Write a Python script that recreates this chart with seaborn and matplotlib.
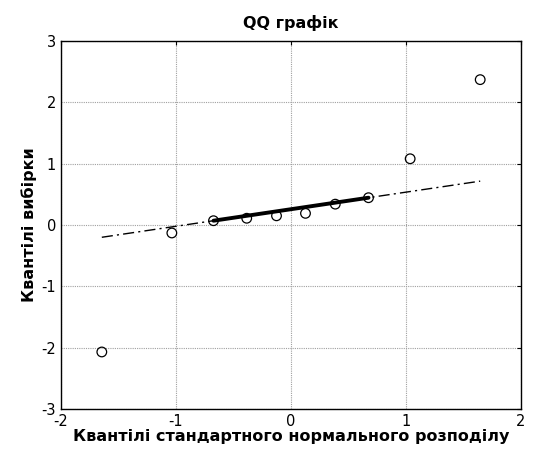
import numpy as np
import pandas as pd
import matplotlib
matplotlib.use("Agg")
import matplotlib.pyplot as plt
import seaborn as sns

# data
theor_q = [-1.645, -1.036, -0.674, -0.385, -0.126, 0.126, 0.385, 0.674, 1.036, 1.645]
sample_q = [-2.07, -0.13, 0.07, 0.11, 0.15, 0.19, 0.34, 0.445, 1.08, 2.37]
x_ticks = [-2, -1, 0, 1, 2]
y_ticks = [-3, -2, -1, 0, 1, 2, 3]
title = "QQ графік"
xlabel = "Квантілі стандартного нормального розподілу"
ylabel = "Квантілі вибірки"

sns.set_style("white")
plt.rcParams['font.family'] = ['DejaVu Sans']
plt.rcParams['axes.unicode_minus'] = False
plt.rcParams['text.color'] = 'black'
plt.rcParams['axes.labelcolor'] = 'black'
plt.rcParams['xtick.color'] = 'black'
plt.rcParams['ytick.color'] = 'black'

df = pd.DataFrame({"x": theor_q, "y": sample_q})

# reference line through first and third quartiles
x1, x3 = theor_q[2], theor_q[7]
y1, y3 = sample_q[2], sample_q[7]
slope = (y3 - y1) / (x3 - x1)
ref_full = pd.DataFrame({"x": [theor_q[0], theor_q[-1]]})
ref_full["y"] = y1 + slope * (ref_full["x"] - x1)
ref_iqr = pd.DataFrame({"x": [x1, x3], "y": [y1, y3]})

fig = plt.figure(figsize=(5.34, 4.57), dpi=100)
ax = fig.add_axes([0.1142, 0.105, 0.8615, 0.8053])

sns.lineplot(data=ref_full, x="x", y="y", ax=ax, color="black", lw=1.0,
             linestyle=(0, (8, 3, 1.5, 3)), sort=False)
sns.lineplot(data=ref_iqr, x="x", y="y", ax=ax, color="black", lw=2.8, sort=False)
sns.scatterplot(data=df, x="x", y="y", ax=ax, marker="o", s=48,
                facecolor="none", edgecolor="black", linewidth=0.9, zorder=5)

ax.set_xlim(-2, 2)
ax.set_ylim(-3, 3)
ax.set_xticks(x_ticks)
ax.set_yticks(y_ticks)
ax.grid(True, color="#a0a0a0", linestyle=(0, (1, 1)), linewidth=0.8)
ax.tick_params(direction="in", length=3, top=True, right=True, labelsize=10.5,
               width=0.8)
ax.tick_params(axis="x", pad=3.5)
ax.tick_params(axis="y", pad=3.5)
for s in ax.spines.values():
    s.set_color("black")
    s.set_linewidth(1.0)

ax.set_title(title, fontsize=11.5, fontweight="bold", pad=9)
ax.set_xlabel(xlabel, fontsize=11.5, fontweight="bold", labelpad=0)
ax.set_ylabel(ylabel, fontsize=11.5, fontweight="bold", labelpad=3)

fig.savefig("out.png", dpi=100)
